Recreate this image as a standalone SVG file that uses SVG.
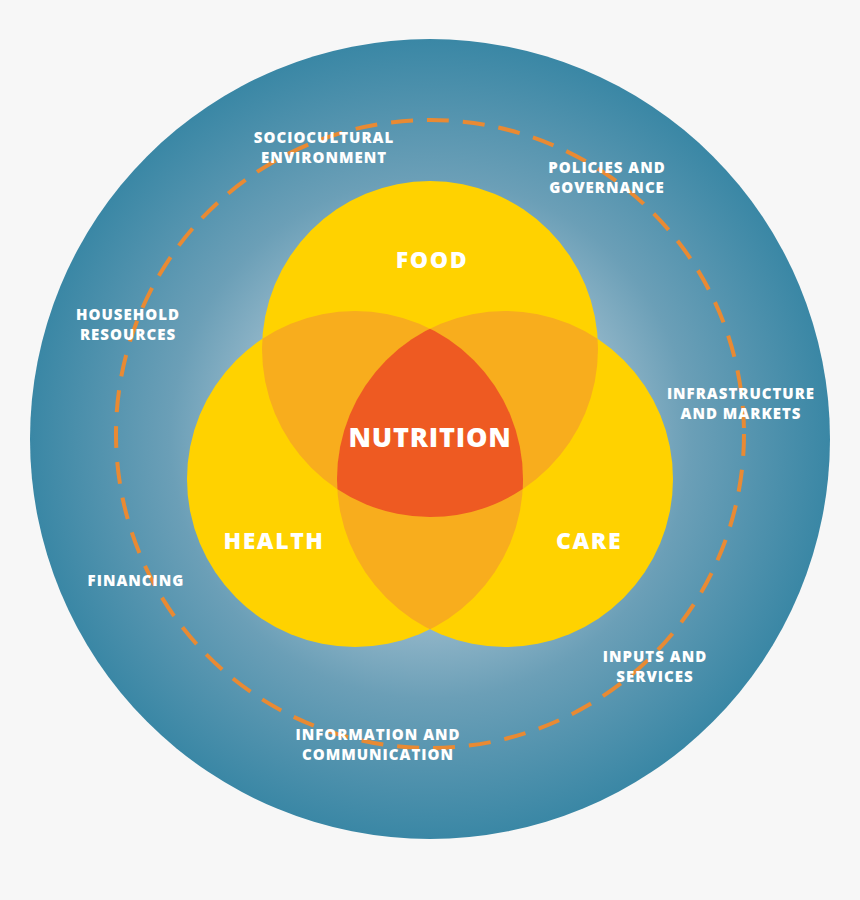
<svg xmlns="http://www.w3.org/2000/svg" width="860" height="900" viewBox="0 0 860 900">
<defs>
<radialGradient id="bg" cx="430" cy="439" r="400" gradientUnits="userSpaceOnUse">
<stop offset="0" stop-color="#e4edf2"/>
<stop offset="0.35" stop-color="#a9c4d3"/>
<stop offset="0.65" stop-color="#6b9fb7"/>
<stop offset="1" stop-color="#3a87a5"/>
</radialGradient>
<clipPath id="cF"><circle cx="430" cy="349" r="168"/></clipPath>
<clipPath id="cH"><circle cx="355" cy="479" r="168"/></clipPath>
<clipPath id="cC"><circle cx="505" cy="479" r="168"/></clipPath>
<clipPath id="cFH" clip-path="url(#cH)"><circle cx="430" cy="349" r="168"/></clipPath>
</defs>
<style>
.lbl{font-family:"Open Sans","Liberation Sans",sans-serif;font-weight:800;fill:#ffffff;text-anchor:middle}
.out{font-size:15px;letter-spacing:1px}
.big{font-size:23px;letter-spacing:1.6px}
.yel{fill:#ffd200}
.pair{fill:#f8ad1d}
</style>
<rect width="860" height="900" fill="#f7f7f7"/>
<g id="outer">
<circle cx="430" cy="439" r="400" fill="url(#bg)"/>
</g>
<g id="ring">
<circle cx="430" cy="434" r="314" fill="none" stroke="#e98a33" stroke-width="4" stroke-dasharray="22 14"/>
</g>
<g id="food"><circle class="yel" cx="430" cy="349" r="168"/></g>
<g id="health"><circle class="yel" cx="355" cy="479" r="168"/></g>
<g id="care"><circle class="yel" cx="505" cy="479" r="168"/></g>
<g id="overlaps">
<circle class="pair" cx="430" cy="349" r="168" clip-path="url(#cH)"/>
<circle class="pair" cx="430" cy="349" r="168" clip-path="url(#cC)"/>
<circle class="pair" cx="355" cy="479" r="168" clip-path="url(#cC)"/>
</g>
<g id="nutrition">
<g clip-path="url(#cFH)"><circle cx="505" cy="479" r="168" fill="#ee5a22"/></g>
<text class="lbl" x="430" y="447" font-size="27" letter-spacing="0.8">NUTRITION</text>
</g>
<g id="labels">
<text class="lbl big" x="432" y="268">FOOD</text>
<text class="lbl big" x="274" y="549">HEALTH</text>
<text class="lbl big" x="589" y="549">CARE</text>
</g>
<g id="sociocultural"><text class="lbl out" x="324" y="143">SOCIOCULTURAL</text><text class="lbl out" x="324" y="163">ENVIRONMENT</text></g>
<g id="policies"><text class="lbl out" x="607" y="173">POLICIES AND</text><text class="lbl out" x="607" y="193">GOVERNANCE</text></g>
<g id="household"><text class="lbl out" x="128" y="320">HOUSEHOLD</text><text class="lbl out" x="128" y="340">RESOURCES</text></g>
<g id="infrastructure"><text class="lbl out" x="741" y="399">INFRASTRUCTURE</text><text class="lbl out" x="741" y="419">AND MARKETS</text></g>
<g id="financing"><text class="lbl out" x="136" y="586">FINANCING</text></g>
<g id="inputs"><text class="lbl out" x="655" y="662">INPUTS AND</text><text class="lbl out" x="655" y="682">SERVICES</text></g>
<g id="information"><text class="lbl out" x="378" y="740">INFORMATION AND</text><text class="lbl out" x="378" y="760">COMMUNICATION</text></g>
</svg>
